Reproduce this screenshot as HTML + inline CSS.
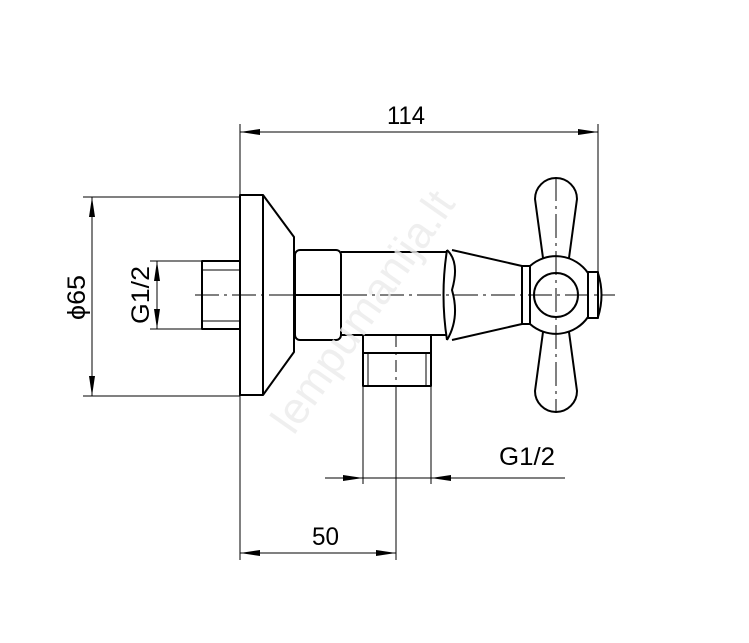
<!DOCTYPE html>
<html><head><meta charset="utf-8"><style>body{margin:0;background:#fff}svg{display:block}</style></head>
<body>
<svg width="749" height="643" viewBox="0 0 749 643" xmlns="http://www.w3.org/2000/svg" font-family="Liberation Sans, sans-serif">
<defs>
<marker id="a" viewBox="0 0 20 6" refX="20" refY="3" markerWidth="20" markerHeight="6" markerUnits="userSpaceOnUse" orient="auto-start-reverse"><path d="M0,0 L20,3 L0,6 Z" fill="#000"/></marker>
</defs>
<g stroke="#000" stroke-width="1" fill="none">
<line x1="240" y1="124" x2="240" y2="560"/>
<line x1="598" y1="124" x2="598" y2="272"/>
<line x1="83" y1="197" x2="240" y2="197"/>
<line x1="83" y1="396" x2="240" y2="396"/>
<line x1="150" y1="261" x2="202" y2="261"/>
<line x1="150" y1="329" x2="202" y2="329"/>
<line x1="363" y1="386" x2="363" y2="484"/>
<line x1="431" y1="386" x2="431" y2="484"/>
<line x1="396" y1="386" x2="396" y2="560"/>
<line x1="325" y1="478" x2="565" y2="478"/>
<line x1="240" y1="132" x2="598" y2="132" marker-start="url(#a)" marker-end="url(#a)"/>
<line x1="92" y1="197" x2="92" y2="396" marker-start="url(#a)" marker-end="url(#a)"/>
<line x1="157" y1="261" x2="157" y2="329" marker-start="url(#a)" marker-end="url(#a)"/>
<line x1="240" y1="553" x2="396" y2="553" marker-start="url(#a)" marker-end="url(#a)"/>
<line x1="343" y1="478" x2="363" y2="478" marker-end="url(#a)"/>
<line x1="451" y1="478" x2="431" y2="478" marker-end="url(#a)"/>
<line x1="195" y1="295" x2="615" y2="295" stroke-dasharray="24,5,3,5"/>
<line x1="556" y1="177" x2="556" y2="413" stroke-dasharray="24,5,3,5"/>
<line x1="396" y1="335" x2="396" y2="386" stroke-dasharray="12,5,3,5"/>
<line x1="368" y1="353" x2="368" y2="386"/>
<line x1="426" y1="353" x2="426" y2="386"/>
<line x1="202" y1="270" x2="240" y2="270"/>
<line x1="202" y1="321" x2="240" y2="321"/>
</g>
<g stroke="#000" stroke-width="2" fill="none" stroke-linejoin="round">
<rect x="240" y="195" width="23" height="200"/>
<path d="M263,195 L294,237 L294,352 L263,395"/>
<rect x="202" y="261" width="38" height="68"/>
<rect x="295" y="250" width="46" height="90" rx="5"/>
<line x1="295" y1="295" x2="341" y2="295"/>
<path d="M341,252 L447,252 M341,335 L447,335"/>
<path d="M447,250 Q460,262 452,290 Q460,318 447,340"/>
<path d="M447,250 Q440,295 447,340"/>
<path d="M452,250 L522,266 M452,340 L522,324"/>
<rect x="522" y="266" width="8" height="58"/>
<rect x="588" y="272" width="10" height="46"/>
<path d="M598,273 Q605,295 598,317"/>
<path d="M530,266 A39,39 0 0 1 588,273 M530,324 A39,39 0 0 0 588,317"/>
<circle cx="556" cy="295" r="22"/>
<path d="M543,258 L535,199 A21,21 0 0 1 577,199 L569,258"/>
<path d="M543,332 L535,391 A21,21 0 0 0 577,391 L569,332"/>
<rect x="363" y="335" width="68" height="51"/>
<line x1="363" y1="353" x2="431" y2="353"/>
</g>
<g fill="#000" font-size="25">
<text x="387" y="124" textLength="38" lengthAdjust="spacingAndGlyphs">114</text>
<text x="312" y="545" textLength="27" lengthAdjust="spacingAndGlyphs">50</text>
<text x="499" y="465" textLength="56" lengthAdjust="spacingAndGlyphs">G1/2</text>
<text transform="translate(85,320) rotate(-90)" textLength="45" lengthAdjust="spacingAndGlyphs">ϕ65</text>
<text transform="translate(149,324) rotate(-90)" textLength="58" lengthAdjust="spacingAndGlyphs">G1/2</text>
</g>
<text transform="translate(375,320) rotate(-55)" text-anchor="middle" font-size="44" fill="#ececec" opacity="0.8">lempumanija.lt</text>
</svg>
</body></html>
